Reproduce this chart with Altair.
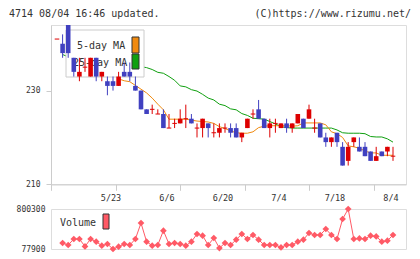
import altair as alt
import pandas as pd

# ---- data ----
opens  = [241,240,244,237,233,235,233,237,233,232,232,231,234,234,231,230,226,226,225,225,
          222,223,223,224,224,222,222,223,221,221,222,222,222,220,222,225,226,224,222,223,
          222,223,222,223,224,224,222,223,220,219,221,218,215,219,218,218,217,215,217,217,216]
highs  = [241,242,244,237,237,237,237,237,234,233,233,234,236,236,233,230,226,227,226,226,
          225,224,226,227,225,223,224,223,223,223,223,223,223,221,224,226,228,224,224,224,
          223,224,223,225,224,227,224,223,221,220,221,219,219,220,220,219,217,218,217,218,218]
lows   = [241,237,237,233,232,234,233,232,232,229,230,231,233,232,230,226,225,225,225,222,
          222,222,223,222,223,220,220,220,220,220,221,220,220,219,222,224,224,222,220,221,
          222,221,221,223,222,224,221,220,218,218,218,214,214,218,217,216,215,215,216,216,215]
closes = [241,238,238,234,234,235,237,233,234,231,231,233,233,233,230,226,225,226,225,222,
          222,223,224,224,223,222,224,222,221,222,222,221,220,221,224,225,224,222,223,223,
          223,222,223,225,222,226,222,220,219,220,219,214,218,220,217,216,215,216,216,218,216]
ma5 = [None]*11 + [232.5,232.1,231.9,231.1,230.3,229.5,228.4,227.1,225.9,223.9,223.9,223.9,
       223.9,223.7,223.5,223.4,223.3,223.0,222.3,221.9,221.4,221.0,220.9,220.9,221.2,222.1,
       222.4,222.5,222.5,222.5,222.5,222.4,222.5,223.1,223.1,223.1,223.1,222.7,221.2,220.8,
       220.0,218.2,218.0,217.7,217.1,216.7,216.7,216.2,216.2,216.2]
ma25 = [None] + [237.7,237.2,237.0,236.8,236.7,236.5,236.4,236.2,236.0,235.9,235.7,235.6,
        235.4,235.3,235.1,234.9,234.5,233.9,233.7,233.0,232.2,231.0,230.8,230.2,229.9,229.2,
        228.4,228.0,227.1,226.8,226.1,225.9,225.1,224.7,224.1,224.0,223.9,223.4,222.9,222.3,
        222.1,222.0,222.0,222.0,222.0,222.0,222.0,222.0,222.0,221.6,221.0,220.9,220.9,220.9,
        220.8,220.2,220.1,220.1,219.7,219.0]
volumes = [None] + [186260,150140,258500,258500,124860,258500,209740,137500,168200,77900,
           119440,168200,150140,258500,547460,209740,137500,150140,408400,168200,
           186260,168200,137500,209740,348800,318100,150140,276560,95000,186260,
           150140,245860,348800,258500,330740,245860,150140,150140,150140,106800,
           150140,150140,209740,245860,366860,330740,330740,439100,330740,258500,
           619700,800300,258500,269340,258500,318100,305460,209740,227800,330740]
date_labels = ["5/23", "6/6", "6/20", "7/4", "7/18", "8/4"]
date_index = [10, 20, 30, 40, 50, 60]
price_ticks = [210, 230]
volume_ticks = [77900, 439100, 800300]

# ---- tables ----
n = len(opens)
df = pd.DataFrame({"i": list(range(n)), "open": opens, "high": highs, "low": lows,
                   "close": closes, "ma5": ma5, "ma25": ma25, "vol": volumes})
dates = pd.DataFrame({"i": date_index, "label": date_labels})
one = pd.DataFrame({"a": [0]})

FONT = "DejaVu Sans Mono"
UP, DOWN = "#dd0000", "#4040c0"
W, H_TOP, H_VOL = 355, 159.3, 40
X0, X1 = -6 / 5.6, (W - 6) / 5.6
xscale = alt.Scale(domain=[X0, X1], nice=False, zero=False)
xticks = [X0 + k * (X1 - X0) / 11 for k in range(12)]
yscale = alt.Scale(domain=[210, 244], nice=False, zero=False)

base = alt.Chart(df)
xenc = alt.X("i:Q", scale=xscale,
             axis=alt.Axis(values=xticks, labels=False, tickSize=6, tickColor="#cccccc",
                           domainColor="#cccccc", grid=False, title=None))
yenc_axis = alt.Axis(values=price_ticks, tickSize=5, tickColor="#cccccc", domainColor="#cccccc",
                     labelFont=FONT, labelFontSize=8, labelColor="#333333", labelPadding=6,
                     grid=False, title=None)

l25 = base.mark_line(color="#10a010", strokeWidth=1).encode(
    x=xenc, y=alt.Y("ma25:Q", scale=yscale, axis=yenc_axis))
l5 = base.mark_line(color="#f08a10", strokeWidth=1).encode(x="i:Q", y="ma5:Q")

legbox = alt.Chart(one).mark_rect(fill="white", stroke="#cccccc", strokeWidth=1).encode(
    x=alt.value(15), x2=alt.value(93), y=alt.value(5), y2=alt.value(52))
legt1 = alt.Chart(one).mark_text(font=FONT, fontSize=10, align="left", baseline="middle",
                                 color="#333333", text="5-day MA").encode(
    x=alt.value(26), y=alt.value(21))
legt2 = alt.Chart(one).mark_text(font=FONT, fontSize=10, align="left", baseline="middle",
                                 color="#333333", text="25-day MA").encode(
    x=alt.value(22), y=alt.value(38))
sw1 = alt.Chart(one).mark_rect(fill="#f08a10", stroke="#333333", strokeWidth=1).encode(
    x=alt.value(81), x2=alt.value(88), y=alt.value(12), y2=alt.value(28))
sw2 = alt.Chart(one).mark_rect(fill="#10a010", stroke="#333333", strokeWidth=1).encode(
    x=alt.value(81), x2=alt.value(88), y=alt.value(29), y2=alt.value(44))

cbase = base.transform_calculate(
    dir="datum.close >= datum.open ? 'up' : 'down'",
    xl="datum.i - 0.41", xr="datum.i + 0.41")
ccol = alt.Color("dir:N", scale=alt.Scale(domain=["up", "down"], range=[UP, DOWN]), legend=None)
wick = cbase.mark_rule(strokeWidth=1).encode(x="i:Q", y="low:Q", y2="high:Q", color=ccol)
body = cbase.transform_filter("datum.open != datum.close").mark_rect().encode(
    x="xl:Q", x2="xr:Q", y="open:Q", y2="close:Q", color=ccol)
doji = cbase.transform_filter("datum.open == datum.close").mark_rule(strokeWidth=1).encode(
    x="xl:Q", x2="xr:Q", y="close:Q", color=ccol)

hdr1 = alt.Chart(one).mark_text(font=FONT, fontSize=10, align="left", baseline="middle",
                                color="#333333", text="4714 08/04 16:46 updated.").encode(
    x=alt.value(-42), y=alt.value(-10.6))
hdr2 = alt.Chart(one).mark_text(font=FONT, fontSize=10, align="right", baseline="middle",
                                color="#333333", text="(C)https://www.rizumu.net/").encode(
    x=alt.value(360), y=alt.value(-10.6))
dlab = alt.Chart(dates).mark_text(font=FONT, fontSize=8.5, baseline="middle", dx=-2,
                                  color="#333333").encode(
    x=alt.X("i:Q", scale=xscale), y=alt.value(H_TOP + 14), text="label:N")

top = alt.layer(l25, l5, legbox, legt1, legt2, sw1, sw2, wick, body, doji,
                hdr1, hdr2, dlab).properties(width=W, height=H_TOP)

VCOL = "#ff5a66"
vline = alt.Chart(df).mark_line(color=VCOL, strokeWidth=1).encode(
    x=alt.X("i:Q", scale=xscale, axis=None),
    y=alt.Y("vol:Q", scale=alt.Scale(domain=[77900, 800300], nice=False, zero=False),
            axis=alt.Axis(values=volume_ticks, format="d", labelOverlap=False,
                          domain=False, ticks=False, grid=False,
                          labelFont=FONT, labelFontSize=8, labelColor="#333333",
                          labelPadding=6, title=None)))
vpts = alt.Chart(df).mark_point(shape="diamond", filled=True, size=45, color=VCOL,
                                opacity=1).encode(x="i:Q", y="vol:Q")
vtxt = alt.Chart(one).mark_text(font=FONT, fontSize=10, align="left", baseline="middle",
                                color="#333333", text="Volume").encode(
    x=alt.value(9), y=alt.value(13.7))
vsw = alt.Chart(one).mark_rect(fill=VCOL, stroke="#333333", strokeWidth=1).encode(
    x=alt.value(52), x2=alt.value(58), y=alt.value(5), y2=alt.value(20))
bottom = alt.layer(vline, vpts, vtxt, vsw).properties(width=W, height=H_VOL)

chart = alt.vconcat(top, bottom, spacing=24, bounds="flush").properties(
    padding={"left": 0, "top": 0, "right": 0, "bottom": 0}
).configure_view(stroke=None).configure(background="white")

chart.save("out.html", embed_options={"renderer": "svg", "actions": False})
